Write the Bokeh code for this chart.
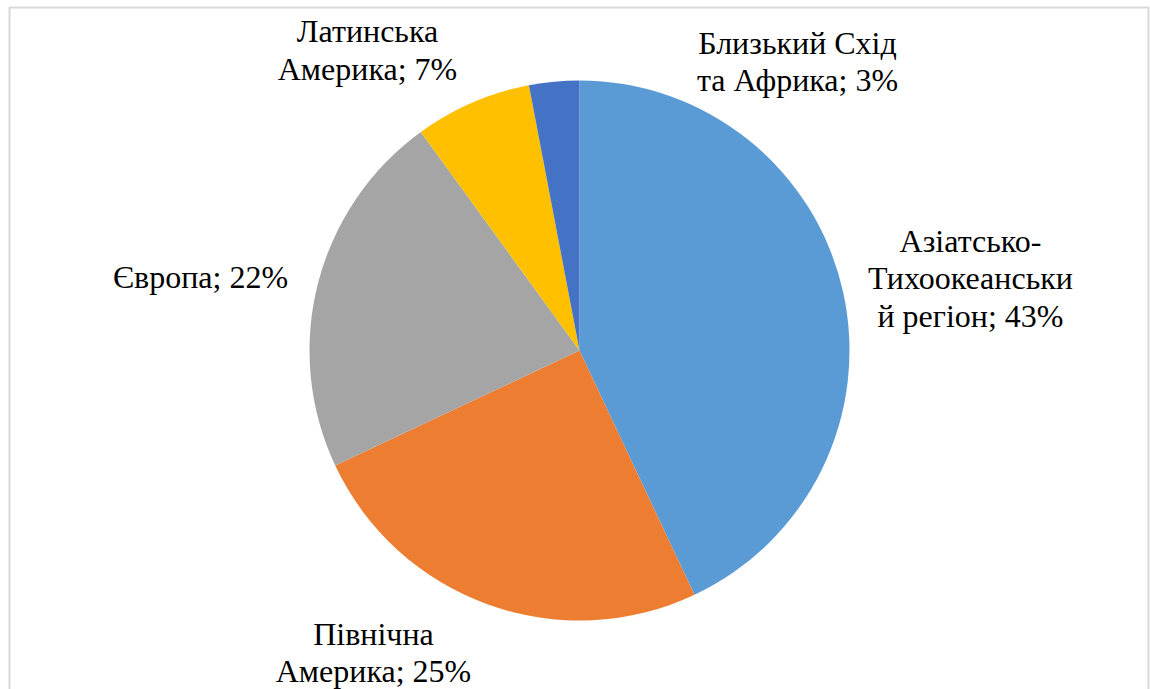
import math
from bokeh.plotting import figure
from bokeh.models import ColumnDataSource, Range1d, Label
from bokeh.embed import file_html
from bokeh.resources import INLINE

regions = ["Азіатсько-\nТихоокеанськи\nй регіон", "Північна\nАмерика", "Європа",
           "Латинська\nАмерика", "Близький Схід\nта Африка"]
shares = [43, 25, 22, 7, 3]
colors = ["#5B9BD5", "#ED7D31", "#A5A5A5", "#FFC000", "#4472C4"]

W, H = 1150, 689
cx, cy, r = 579, H - 350, 270
# label centres (layout, screen px)
label_pos = [(970, 278), (373, 652), (200, 276), (367, 49.5), (797, 61)]

total = sum(shares)
starts, ends = [], []
a = math.pi / 2
for s in shares:
    starts.append(a)
    a -= 2 * math.pi * s / total
    ends.append(a)

src = ColumnDataSource(dict(start=starts, end=ends, color=colors,
                            x=[cx] * len(shares), y=[cy] * len(shares)))

p = figure(width=W, height=H, output_backend="svg", toolbar_location=None,
           x_range=Range1d(0, W), y_range=Range1d(0, H), min_border=0)
p.axis.visible = False
p.grid.visible = False
p.outline_line_color = None
p.background_fill_color = "white"

# chart frame
p.quad(left=[9], right=[1148], bottom=[-5], top=[H - 7], fill_color=None,
       line_color="#D9D9D9", line_width=2)

p.wedge(x="x", y="y", radius=r, start_angle="start", end_angle="end",
        direction="clock", fill_color="color", line_color=None, source=src)

labels = [f"{n}; {s}%" for n, s in zip(regions, shares)]
for (lx, ly), t in zip(label_pos, labels):
    p.add_layout(Label(x=lx, y=H - ly, text=t, text_align="center", text_baseline="middle",
                       text_font="Liberation Serif", text_font_size="32px",
                       text_color="black", text_line_height=1.05))

open("out.html", "w").write(file_html(p, INLINE))
